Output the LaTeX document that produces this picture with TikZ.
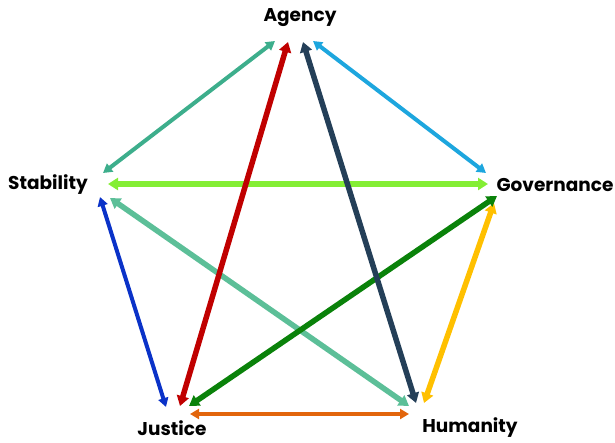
\documentclass[tikz,border=0pt]{standalone}
\usepackage{fontspec}
\setmainfont{Poppins}
\usepackage{tikz}
\usetikzlibrary{arrows.meta}

\definecolor{tealarrow}{HTML}{3DAE8C}
\definecolor{redarrow}{HTML}{C00000}
\definecolor{slatearrow}{HTML}{243F58}
\definecolor{skyarrow}{HTML}{1DA6DE}
\definecolor{limearrow}{HTML}{84EE34}
\definecolor{bluearrow}{HTML}{0A32C8}
\definecolor{mintarrow}{HTML}{5CBF98}
\definecolor{greenarrow}{HTML}{0A820A}
\definecolor{yellowarrow}{HTML}{FFC000}
\definecolor{orangearrow}{HTML}{E2650C}

\begin{document}
\begin{tikzpicture}[x=1pt,y=-1pt,
	label/.style={font=\bfseries\fontsize{18.5}{20}\selectfont, inner sep=0pt},
	thick link/.style={draw=#1, line width=5.5pt, {Triangle[length=10pt,width=12pt]}-{Triangle[length=10pt,width=12pt]}},
	thin link/.style={draw=#1, line width=4pt, {Triangle[length=9pt,width=10pt]}-{Triangle[length=9pt,width=10pt]}}]
	
	\useasboundingbox (0,0) rectangle (615,442);
	
	\node[label] (ag) at (300,18) {Agency};
	\node[label] (st) at (48,185) {Stability};
	\node[label] (gov) at (555,185) {Governance};
	\node[label] (ju) at (172,428) {Justice};
	\node[label] (hu) at (470,428) {Humanity};
	
	% outer ring
	\draw[thin link=tealarrow] ([shift={(-25,23)}]ag.center) -- ([shift={(55,-12)}]st.center);
	\draw[thin link=skyarrow] ([shift={(13,23)}]ag.center) -- ([shift={(-69,-12)}]gov.center);
	\draw[thin link=bluearrow] ([shift={(52,12)}]st.center) -- ([shift={(-6,-21)}]ju.center);
	\draw[thick link=yellowarrow] ([shift={(-61,18)}]gov.center) -- ([shift={(-46,-25)}]hu.center);
	\draw[thin link=orangearrow] ([shift={(18,-14)}]ju.center) -- ([shift={(-61,-14)}]hu.center);
	
	% inner star
	\draw[thick link=limearrow] ([shift={(60,-1)}]st.center) -- ([shift={(-67,-1)}]gov.center);
	\draw[thick link=mintarrow] ([shift={(62,13)}]st.center) -- ([shift={(-61,-22)}]hu.center);
	\draw[thick link=greenarrow] ([shift={(-58,11)}]gov.center) -- ([shift={(17,-22)}]ju.center);
	\draw[thick link=redarrow] ([shift={(-12,24)}]ag.center) -- ([shift={(8,-22)}]ju.center);
	\draw[thick link=slatearrow] ([shift={(3,24)}]ag.center) -- ([shift={(-54,-25)}]hu.center);
	
\end{tikzpicture}
\end{document}
